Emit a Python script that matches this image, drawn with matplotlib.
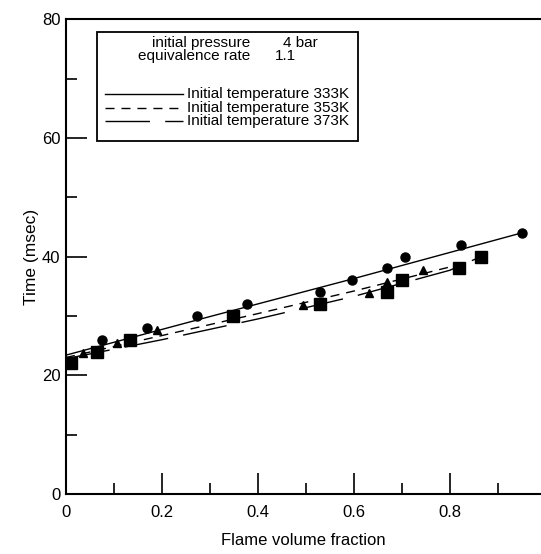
import numpy as np
import matplotlib
matplotlib.use("Agg")
import matplotlib.pyplot as plt
from matplotlib.patches import Rectangle

plt.rcParams['font.family'] = ['Liberation Sans', 'DejaVu Sans']

# measured points: flame volume fraction vs. time (msec)
x_333 = [0.075, 0.169, 0.273, 0.377, 0.53, 0.596, 0.669, 0.706, 0.823, 0.95]
t_333 = [26, 28, 30, 32, 34, 36, 38, 40, 42, 44]

x_353 = [0.035, 0.106, 0.19, 0.494, 0.631, 0.669, 0.744, 0.817]
t_353 = [23.7, 25.5, 27.6, 31.8, 33.8, 35.7, 37.8, 38.5]

x_373 = [0.01, 0.065, 0.133, 0.348, 0.53, 0.67, 0.70, 0.82, 0.865]
t_373 = [22, 24, 26, 30, 32, 34, 36, 38, 40]

# smoothed trend curves for each temperature
curve_x_333 = [0, 0.3, 0.6, 0.95]
curve_t_333 = [23.4, 29.9, 36.3, 44.0]

curve_x_353 = [0, 0.2, 0.4, 0.6, 0.817]
curve_t_353 = [23.0, 26.7, 30.4, 34.2, 38.6]

curve_x_373 = [0, 0.2, 0.4, 0.6, 0.8, 0.865]
curve_t_373 = [22.8, 26.0, 29.5, 33.3, 37.7, 40.0]

legend_labels = ['Initial temperature 333K', 'Initial temperature 353K',
                 'Initial temperature 373K']

fig = plt.figure(figsize=(5.41, 5.54), dpi=100)
ax = fig.add_axes([0.122, 0.1083, 0.878, 0.857])

short_dash = (0, (6.5, 5))
long_dash = (0, (32, 11))
series = [
    (x_333, t_333, curve_x_333, curve_t_333, 'o', 6.5, '-'),
    (x_353, t_353, curve_x_353, curve_t_353, '^', 6, short_dash),
    (x_373, t_373, curve_x_373, curve_t_373, 's', 8, long_dash),
]
for xs, ts, cx, ct, mk, ms, ls in series:
    ax.plot(cx, ct, color='black', lw=1.0, ls=ls)
    ax.plot(xs, ts, mk, color='black', ms=ms, ls='none')

ax.set_xlim(0, 0.99)
ax.set_ylim(0, 80)
ax.set_xticks([0, 0.2, 0.4, 0.6, 0.8])
ax.set_xticklabels(['0', '0.2', '0.4', '0.6', '0.8'])
ax.set_xticks(np.arange(0.1, 1.0, 0.2), minor=True)
ax.set_yticks([0, 20, 40, 60, 80])
ax.set_yticks([10, 30, 50, 70], minor=True)
ax.tick_params(which='major', direction='in', length=15, width=1.2,
               labelsize=12, pad=8)
ax.tick_params(axis='y', which='major', pad=4)
ax.tick_params(which='minor', direction='in', length=8, width=1.2)
ax.spines['right'].set_visible(False)
for s in ['left', 'bottom', 'top']:
    ax.spines[s].set_linewidth(1.5)

ax.set_xlabel('Flame volume fraction', fontsize=12, labelpad=9)
ax.set_ylabel('Time (msec)', fontsize=12.5, labelpad=2)

# boxed key with run conditions
tr = ax.transAxes
ax.add_patch(Rectangle((0.065, 0.743), 0.55, 0.230, transform=tr,
                       fill=False, edgecolor='black', lw=1.3, zorder=5))
fs = 11
ax.text(0.181, 0.949, 'initial pressure', transform=tr, fontsize=fs,
        va='center')
ax.text(0.457, 0.949, '4 bar', transform=tr, fontsize=fs, va='center')
ax.text(0.152, 0.922, 'equivalence rate', transform=tr, fontsize=fs,
        va='center')
ax.text(0.440, 0.922, '1.1', transform=tr, fontsize=fs, va='center')

key_y = [0.842, 0.814, 0.785]
for s, label, yk in zip(series, legend_labels, key_y):
    ax.plot([0.082, 0.246], [yk, yk], transform=tr, color='black', lw=1.0,
            ls=s[-1])
    ax.text(0.255, yk, label, transform=tr, fontsize=fs, va='center')

fig.savefig('out.png', dpi=100)
